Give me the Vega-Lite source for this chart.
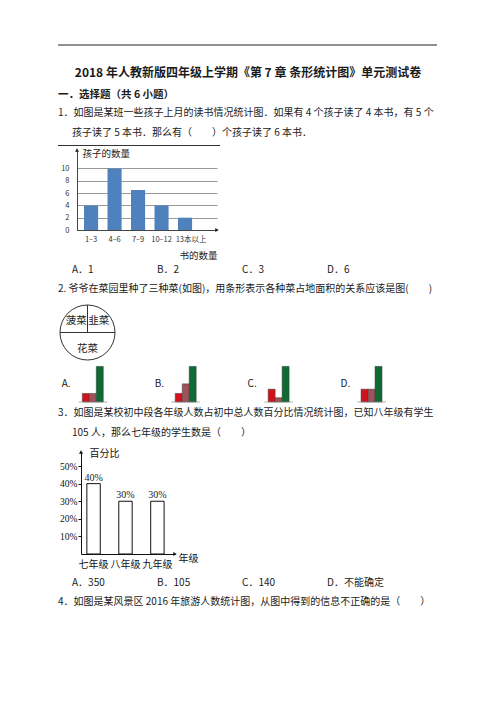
{
  "$schema": "https://vega.github.io/schema/vega-lite/v6.json",
  "background": "white",
  "padding": 0,
  "spacing": 0,
  "bounds": "flush",
  "config": {
    "view": {"stroke": null},
    "font": "Noto Sans CJK SC",
    "text": {"font": "Noto Sans CJK SC", "fontSize": 10, "color": "#1a1a1a", "align": "left", "baseline": "middle"},
    "axis": {"labelFont": "Noto Sans CJK SC", "titleFont": "Noto Sans CJK SC", "titleFontWeight": "normal"}
  },
  "datasets": {
    "lines": [
      {"id": "title", "t": "2018 年人教新版四年级上学期《第 7 章  条形统计图》单元测试卷"},
      {"id": "sec", "t": "一．选择题（共 6 小题）"},
      {"id": "q1a", "t": "1．如图是某班一些孩子上月的读书情况统计图．如果有 4 个孩子读了 4 本书，有 5 个"},
      {"id": "q1b", "t": "孩子读了 5 本书．那么有（　　）个孩子读了 6 本书．"},
      {"id": "q2a", "t": "2. 爷爷在菜园里种了三种菜(如图)，用条形表示各种菜占地面积的关系应该是图(　　)"},
      {"id": "q3a", "t": "3．如图是某校初中段各年级人数占初中总人数百分比情况统计图，已知八年级有学生"},
      {"id": "q3b", "t": "105 人，那么七年级的学生数是（　　）"},
      {"id": "q4a", "t": "4．如图是某风景区 2016 年旅游人数统计图，从图中得到的信息不正确的是（　　）"}
    ],
    "answers": [
      {"q": 1, "opt": "A", "t": "A．1"},
      {"q": 1, "opt": "B", "t": "B．2"},
      {"q": 1, "opt": "C", "t": "C．3"},
      {"q": 1, "opt": "D", "t": "D．6"},
      {"q": 3, "opt": "A", "t": "A．350"},
      {"q": 3, "opt": "B", "t": "B．105"},
      {"q": 3, "opt": "C", "t": "C．140"},
      {"q": 3, "opt": "D", "t": "D．不能确定"}
    ],
    "books": [
      {"range": "1–3", "kids": 4},
      {"range": "4–6", "kids": 10},
      {"range": "7–9", "kids": 6.5},
      {"range": "10–12", "kids": 4},
      {"range": "13本以上", "kids": 2}
    ],
    "garden": [
      {"veg": "韭菜", "share": 1, "k": 1},
      {"veg": "花菜", "share": 2, "k": 2},
      {"veg": "菠菜", "share": 1, "k": 3}
    ],
    "options": [
      {"opt": "A", "veg": "菠菜", "v": 2.4},
      {"opt": "A", "veg": "韭菜", "v": 2.4},
      {"opt": "A", "veg": "花菜", "v": 10},
      {"opt": "B", "veg": "菠菜", "v": 2.4},
      {"opt": "B", "veg": "韭菜", "v": 5.1},
      {"opt": "B", "veg": "花菜", "v": 10},
      {"opt": "C", "veg": "菠菜", "v": 3.6},
      {"opt": "C", "veg": "韭菜", "v": 1.2},
      {"opt": "C", "veg": "花菜", "v": 10},
      {"opt": "D", "veg": "菠菜", "v": 3.6},
      {"opt": "D", "veg": "韭菜", "v": 3.6},
      {"opt": "D", "veg": "花菜", "v": 10}
    ],
    "optlabels": [
      {"opt": "A", "label": "A."},
      {"opt": "B", "label": "B."},
      {"opt": "C", "label": "C."},
      {"opt": "D", "label": "D."}
    ],
    "grades": [
      {"grade": "七年级", "pct": 0.4},
      {"grade": "八年级", "pct": 0.3},
      {"grade": "九年级", "pct": 0.3}
    ]
  },
  "vconcat": [
    {
      "width": 496,
      "height": 150,
      "data": {"name": "lines"},
      "layer": [
        {
          "mark": {"type": "rule", "color": "#222", "strokeWidth": 1},
          "transform": [{"filter": "datum.id == 'title'"}],
          "encoding": {"x": {"value": 58}, "x2": {"value": 437}, "y": {"value": 45}}
        },
        {
          "mark": {"type": "text", "align": "center", "fontSize": 12, "fontWeight": "bold"},
          "transform": [{"filter": "datum.id == 'title'"}],
          "encoding": {"x": {"value": 248}, "y": {"value": 73}, "text": {"field": "t"}}
        },
        {
          "mark": {"type": "text", "fontSize": 10.5, "fontWeight": "bold"},
          "transform": [{"filter": "datum.id == 'sec'"}],
          "encoding": {"x": {"value": 58}, "y": {"value": 95}, "text": {"field": "t"}}
        },
        {
          "mark": {"type": "text"},
          "transform": [{"filter": "datum.id == 'q1a'"}],
          "encoding": {"x": {"value": 58}, "y": {"value": 113}, "text": {"field": "t"}}
        },
        {
          "mark": {"type": "text"},
          "transform": [{"filter": "datum.id == 'q1b'"}],
          "encoding": {"x": {"value": 72}, "y": {"value": 133}, "text": {"field": "t"}}
        },
        {
          "mark": {"type": "rule", "color": "#333", "strokeWidth": 1},
          "transform": [{"filter": "datum.id == 'q1a'"}],
          "encoding": {"x": {"value": 58}, "x2": {"value": 220}, "y": {"value": 145.5}}
        }
      ]
    },
    {
      "width": 496,
      "height": 80,
      "data": {"name": "books"},
      "layer": [
        {
          "mark": {"type": "bar", "color": "#4F81BD"},
          "encoding": {
            "x": {
              "field": "range",
              "type": "nominal",
              "sort": null,
              "scale": {"range": [77, 217], "paddingInner": 0.4, "paddingOuter": 0.68, "align": 0.22},
              "axis": {
                "title": "书的数量",
                "titleX": 217,
                "titleY": 25,
                "titleAlign": "right",
                "titleBaseline": "middle",
                "titleFontSize": 9.5,
                "titleColor": "#222",
                "labelFontSize": 7.5,
                "labelColor": "#333",
                "labelAngle": 0,
                "labelPadding": 5,
                "labelOverlap": false,
                "labelOffset": {"condition": {"test": "datum.value === '13本以上'", "value": 6}, "value": 0},
                "ticks": false,
                "domainColor": "#444"
              }
            },
            "y": {
              "field": "kids",
              "type": "quantitative",
              "scale": {"domain": [0, 13], "nice": false},
              "axis": {
                "title": "孩子的数量",
                "titleAngle": 0,
                "titleX": 5,
                "titleY": 3,
                "titleAlign": "left",
                "titleBaseline": "middle",
                "titleFontSize": 9.5,
                "titleColor": "#222",
                "values": [0, 2, 4, 6, 8, 10],
                "tickCount": 20,
                "format": "d",
                "offset": -77,
                "grid": true,
                "gridColor": "#999999",
                "gridWidth": 1,
                "ticks": false,
                "labelOverlap": false,
                "labelPadding": 8,
                "labelFontSize": 7.5,
                "labelColor": "#333",
                "domainColor": "#444"
              }
            }
          }
        },
        {
          "mark": {"type": "point", "shape": "triangle-up", "filled": true, "size": 16, "color": "#222", "opacity": 1},
          "transform": [{"filter": "datum.kids == 10"}],
          "encoding": {"x": {"value": 77}, "y": {"datum": 13}}
        },
        {
          "mark": {"type": "point", "shape": "triangle-right", "filled": true, "size": 16, "color": "#222", "opacity": 1},
          "transform": [{"filter": "datum.kids == 10"}],
          "encoding": {"x": {"value": 217}, "y": {"datum": 0}}
        }
      ]
    },
    {
      "width": 496,
      "height": 75,
      "layer": [
        {
          "data": {"name": "answers"},
          "mark": {"type": "text"},
          "transform": [{"filter": "datum.q == 1"}],
          "encoding": {
            "x": {"field": "opt", "type": "nominal", "scale": {"type": "point", "range": [72, 327], "padding": 0}, "axis": null},
            "y": {"value": 40},
            "text": {"field": "t"}
          }
        },
        {
          "data": {"name": "lines"},
          "mark": {"type": "text"},
          "transform": [{"filter": "datum.id == 'q2a'"}],
          "encoding": {"x": {"value": 58}, "y": {"value": 59}, "text": {"field": "t"}}
        }
      ]
    },
    {
      "width": 175,
      "height": 55,
      "data": {"name": "garden"},
      "encoding": {
        "theta": {"field": "share", "type": "quantitative", "stack": true},
        "order": {"field": "k", "type": "quantitative"}
      },
      "layer": [
        {"mark": {"type": "arc", "outerRadius": 27.5, "fill": "white", "stroke": "#333", "strokeWidth": 1}},
        {"mark": {"type": "text", "radius": 16, "align": "center", "fontSize": 10.5}, "encoding": {"text": {"field": "veg"}}}
      ]
    },
    {
      "width": 496,
      "height": 42,
      "layer": [
        {
          "data": {"name": "options"},
          "mark": {"type": "bar", "stroke": "#3a3a3a", "strokeWidth": 0.5},
          "encoding": {
            "x": {"field": "opt", "type": "nominal", "scale": {"paddingInner": 0.6616, "paddingOuter": 1.2553, "align": 0.4148}, "axis": null},
            "xOffset": {"field": "veg", "type": "nominal", "sort": ["菠菜", "韭菜", "花菜"], "scale": {"paddingInner": 0, "paddingOuter": 0.75}},
            "y": {"field": "v", "type": "quantitative", "scale": {"domain": [0, 11.8], "nice": false}, "axis": null},
            "color": {"field": "veg", "type": "nominal", "scale": {"domain": ["菠菜", "韭菜", "花菜"], "range": ["#D1121B", "#A0525A", "#0E6B34"]}, "legend": null}
          }
        },
        {
          "data": {"name": "optlabels"},
          "mark": {"type": "tick", "size": 28.7, "thickness": 1, "color": "#8c8c8c"},
          "encoding": {"x": {"field": "opt", "type": "nominal"}, "y": {"datum": 0}}
        },
        {
          "data": {"name": "optlabels"},
          "mark": {"type": "text", "dx": -15.3, "fontSize": 10},
          "encoding": {"x": {"field": "opt", "type": "nominal", "bandPosition": 0}, "y": {"value": 24}, "text": {"field": "label"}}
        }
      ]
    },
    {
      "width": 496,
      "height": 49.5,
      "data": {"name": "lines"},
      "layer": [
        {
          "mark": {"type": "text"},
          "transform": [{"filter": "datum.id == 'q3a'"}],
          "encoding": {"x": {"value": 58}, "y": {"value": 11}, "text": {"field": "t"}}
        },
        {
          "mark": {"type": "text"},
          "transform": [{"filter": "datum.id == 'q3b'"}],
          "encoding": {"x": {"value": 72}, "y": {"value": 31}, "text": {"field": "t"}}
        }
      ]
    },
    {
      "width": 496,
      "height": 102,
      "data": {"name": "grades"},
      "encoding": {
        "x": {
          "field": "grade",
          "type": "nominal",
          "sort": null,
          "scale": {"range": [81, 175], "paddingInner": 0.58, "paddingOuter": 0.263, "align": 0.35},
          "axis": {
            "title": "年级",
            "titleX": 178,
            "titleY": 4,
            "titleAlign": "left",
            "titleBaseline": "middle",
            "titleFontSize": 10,
            "titleColor": "#111",
            "labelFontSize": 10,
            "labelAngle": 0,
            "labelPadding": 5,
            "labelColor": "#111",
            "labelOverlap": false,
            "ticks": false,
            "domainColor": "#111"
          }
        }
      },
      "layer": [
        {
          "mark": {"type": "bar", "fill": "white", "stroke": "#111", "strokeWidth": 1},
          "encoding": {
            "y": {
              "field": "pct",
              "type": "quantitative",
              "scale": {"domain": [0, 0.58], "nice": false},
              "axis": {
                "title": "百分比",
                "titleAngle": 0,
                "titleX": 8,
                "titleY": 1,
                "titleAlign": "left",
                "titleBaseline": "middle",
                "titleFontSize": 10,
                "titleColor": "#111",
                "values": [0.1, 0.2, 0.3, 0.4, 0.5],
                "tickCount": 20,
                "format": ".0%",
                "offset": -81,
                "grid": false,
                "tickSize": 3,
                "tickColor": "#111",
                "domainColor": "#111",
                "labelOverlap": false,
                "labelFont": "Liberation Serif",
                "labelFontSize": 9.5,
                "labelPadding": 1,
                "labelColor": "#111"
              }
            }
          }
        },
        {
          "mark": {"type": "text", "align": "center", "baseline": "bottom", "dy": -1, "font": "Liberation Serif", "fontSize": 10},
          "encoding": {
            "y": {"field": "pct", "type": "quantitative"},
            "text": {"field": "pct", "type": "quantitative", "format": ".0%"}
          }
        },
        {
          "mark": {"type": "point", "shape": "triangle-up", "filled": true, "size": 16, "color": "#111", "opacity": 1},
          "transform": [{"filter": "datum.pct == 0.4"}],
          "encoding": {"x": {"value": 81}, "y": {"datum": 0.58}}
        },
        {
          "mark": {"type": "point", "shape": "triangle-right", "filled": true, "size": 16, "color": "#111", "opacity": 1},
          "transform": [{"filter": "datum.pct == 0.4"}],
          "encoding": {"x": {"value": 175}, "y": {"datum": 0}}
        }
      ]
    },
    {
      "width": 496,
      "height": 60,
      "layer": [
        {
          "data": {"name": "answers"},
          "mark": {"type": "text"},
          "transform": [{"filter": "datum.q == 3"}],
          "encoding": {
            "x": {"field": "opt", "type": "nominal", "scale": {"type": "point", "range": [72, 327], "padding": 0}, "axis": null},
            "y": {"value": 28.5},
            "text": {"field": "t"}
          }
        },
        {
          "data": {"name": "lines"},
          "mark": {"type": "text"},
          "transform": [{"filter": "datum.id == 'q4a'"}],
          "encoding": {"x": {"value": 58}, "y": {"value": 47.5}, "text": {"field": "t"}}
        }
      ]
    }
  ]
}
